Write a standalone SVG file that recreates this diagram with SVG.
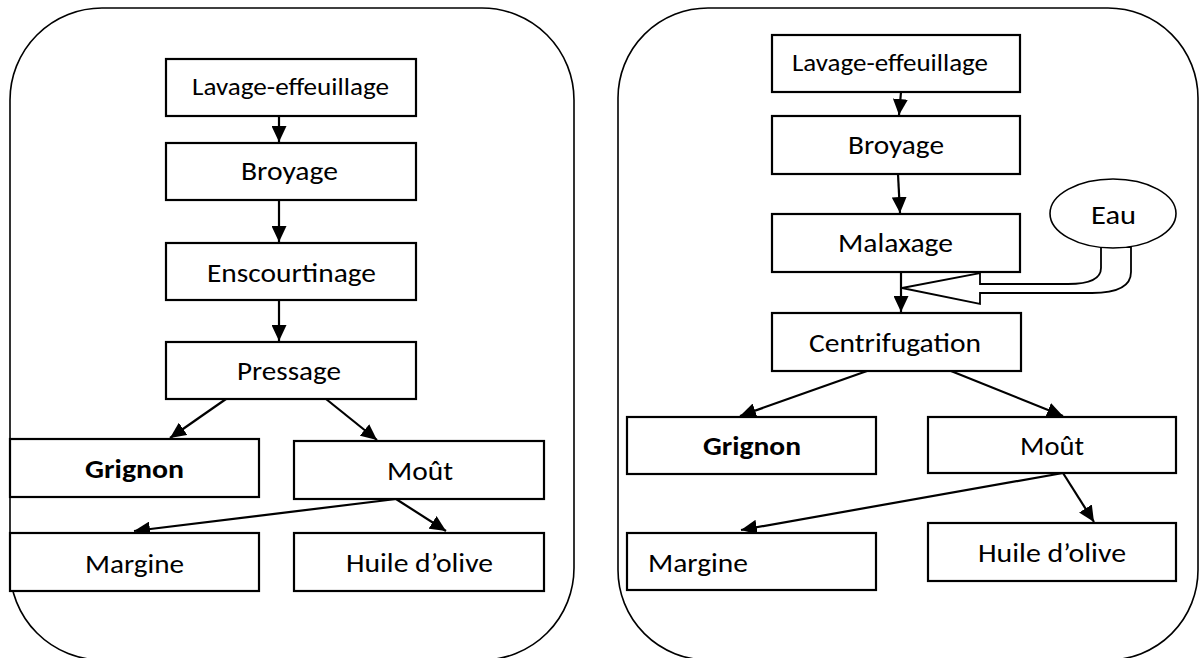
<svg xmlns="http://www.w3.org/2000/svg" width="1204" height="658" viewBox="0 0 1204 658">
<style>
.panel{fill:none;stroke:#000;stroke-width:1.6}
.box{fill:#fff;stroke:#000;stroke-width:2.2}
.t{font-family:Carlito,Lato,"Open Sans",sans-serif;font-size:27px;fill:#000;text-anchor:middle}
.s{font-size:24px}
.b{font-weight:bold}
.c{fill:none;stroke:#000;stroke-width:2.2;marker-end:url(#ah)}
</style>
<defs>
<marker id="ah" markerUnits="userSpaceOnUse" markerWidth="17" markerHeight="15" refX="16" refY="7.5" orient="auto" viewBox="0 0 17 15">
<path d="M0,0 L16,7.5 L0,15 z" fill="#000"/>
</marker>
</defs>
<rect x="10" y="8" width="564" height="652" rx="92" ry="92" class="panel"/>
<rect x="618" y="8" width="580" height="652" rx="90" ry="90" class="panel"/>
<g id="connectors">
<line x1="279" y1="116" x2="279" y2="142" class="c"/>
<line x1="279" y1="200" x2="279" y2="242" class="c"/>
<line x1="279" y1="300" x2="279" y2="341" class="c"/>
<line x1="226" y1="399" x2="170" y2="438" class="c"/>
<line x1="326" y1="399" x2="377" y2="440" class="c"/>
<line x1="396" y1="499" x2="134" y2="531" class="c"/>
<line x1="396" y1="499" x2="446" y2="531" class="c"/>
<line x1="901" y1="92" x2="899" y2="115" class="c"/>
<line x1="898" y1="174" x2="900" y2="213" class="c"/>
<line x1="901" y1="272" x2="901" y2="312" class="c"/>
<line x1="867" y1="371" x2="740" y2="416" class="c"/>
<line x1="951" y1="371" x2="1063" y2="416" class="c"/>
<line x1="1063" y1="473" x2="741" y2="530" class="c"/>
<line x1="1063" y1="473" x2="1094" y2="522" class="c"/>
<path d="M902,288 L980,273 L980,284 L1068,284 Q1101,284 1101,268 L1101,247 L1131,247 L1131,272 Q1131,293 1092,293 L980,293 L980,304 Z" fill="#fff" stroke="#000" stroke-width="1.8" stroke-linejoin="miter"/>
</g>
<g id="l-lavage"><rect x="166" y="59" width="250" height="57" class="box"/><text x="290.5" y="95" class="t s" textLength="197" lengthAdjust="spacingAndGlyphs">Lavage-effeuillage</text></g>
<g id="l-broyage"><rect x="166" y="143" width="250" height="57" class="box"/><text x="289.5" y="180" class="t" textLength="97" lengthAdjust="spacingAndGlyphs">Broyage</text></g>
<g id="l-enscourtinage"><rect x="166" y="243" width="250" height="57" class="box"/><text x="291.5" y="282" class="t" textLength="169" lengthAdjust="spacingAndGlyphs">Enscourtinage</text></g>
<g id="l-pressage"><rect x="166" y="342" width="250" height="57" class="box"/><text x="289" y="380" class="t" textLength="104" lengthAdjust="spacingAndGlyphs">Pressage</text></g>
<g id="l-grignon"><rect x="10" y="439" width="249" height="58" class="box"/><text x="134.5" y="478" class="t b" textLength="99" lengthAdjust="spacingAndGlyphs">Grignon</text></g>
<g id="l-mout"><rect x="294" y="441" width="250" height="58" class="box"/><text x="420" y="480" class="t" textLength="66" lengthAdjust="spacingAndGlyphs">Moût</text></g>
<g id="l-margine"><rect x="10" y="533" width="249" height="58" class="box"/><text x="134.5" y="573" class="t" textLength="99" lengthAdjust="spacingAndGlyphs">Margine</text></g>
<g id="l-huile"><rect x="294" y="533" width="250" height="58" class="box"/><text x="419.5" y="572" class="t" textLength="147" lengthAdjust="spacingAndGlyphs">Huile d’olive</text></g>
<g id="r-lavage"><rect x="772" y="35" width="248" height="57" class="box"/><text x="890" y="71" class="t s" textLength="196" lengthAdjust="spacingAndGlyphs">Lavage-effeuillage</text></g>
<g id="r-broyage"><rect x="772" y="116" width="248" height="58" class="box"/><text x="896" y="154" class="t" textLength="96" lengthAdjust="spacingAndGlyphs">Broyage</text></g>
<g id="r-malaxage"><rect x="772" y="214" width="248" height="58" class="box"/><text x="895.5" y="252" class="t" textLength="115" lengthAdjust="spacingAndGlyphs">Malaxage</text></g>
<g id="r-eau"><ellipse cx="1113" cy="213.5" rx="63" ry="34.5" fill="#fff" stroke="#000" stroke-width="1.6"/><text x="1113.5" y="224" class="t" textLength="45" lengthAdjust="spacingAndGlyphs">Eau</text></g>
<g id="r-centrifugation"><rect x="772" y="313" width="249" height="58" class="box"/><text x="895" y="352" class="t" textLength="172" lengthAdjust="spacingAndGlyphs">Centrifugation</text></g>
<g id="r-grignon"><rect x="627" y="417" width="249" height="57" class="box"/><text x="752" y="455" class="t b" textLength="98" lengthAdjust="spacingAndGlyphs">Grignon</text></g>
<g id="r-mout"><rect x="928" y="417" width="248" height="56" class="box"/><text x="1052" y="455" class="t" textLength="64" lengthAdjust="spacingAndGlyphs">Moût</text></g>
<g id="r-margine"><rect x="627" y="533" width="249" height="57" class="box"/><text x="698" y="572" class="t" textLength="100" lengthAdjust="spacingAndGlyphs">Margine</text></g>
<g id="r-huile"><rect x="928" y="523" width="248" height="58" class="box"/><text x="1052" y="562" class="t" textLength="148" lengthAdjust="spacingAndGlyphs">Huile d’olive</text></g>
</svg>
